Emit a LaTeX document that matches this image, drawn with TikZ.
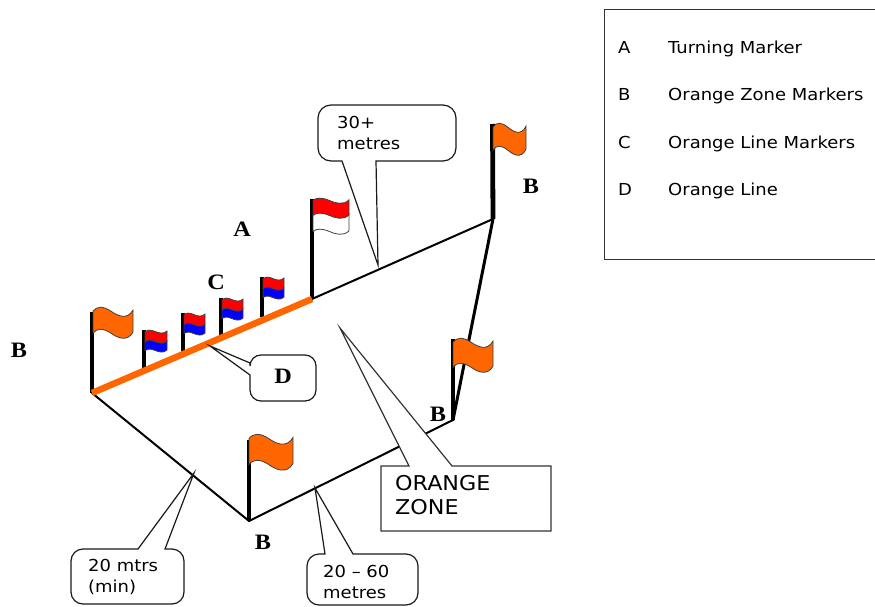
\documentclass[tikz,border=0pt]{standalone}
\usepackage{fontspec}
\setmainfont{DejaVu Sans}[FakeStretch=1.09]
\newfontfamily\lblfont{Liberation Serif}[FakeStretch=1.1]
\definecolor{orangeflag}{HTML}{FF6600}
\definecolor{redflag}{HTML}{FF0000}
\definecolor{blueflag}{HTML}{0000FF}
\newcommand{\waveband}[6]{% x y w amp h colour
  \begin{scope}[shift={(#1,#2)},x=#3pt,y=-#4pt]
    \pgfmathsetmacro{\hh}{#5/#4}
    \filldraw[fill=#6,draw=black!75,line width=.8pt]
      (0,.4) .. controls (.1,-.1) and (.25,-.1) .. (.45,.4)
             .. controls (.6,.8) and (.85,1.3) .. (1,.3)
      -- (1,.3+\hh) .. controls (.85,1.3+\hh) and (.6,.8+\hh) .. (.45,.4+\hh)
             .. controls (.25,-.1+\hh) and (.1,-.1+\hh) .. (0,.4+\hh) -- cycle;
  \end{scope}}
\tikzset{
  pole/.style={line width=4.8pt,black},
  thinpole/.style={line width=4.2pt,black},
  course/.style={line width=2pt,black,line cap=round},
  orangeline/.style={line width=6.5pt,orangeflag},
  callout/.style={draw=black!90,fill=white,line width=1.2pt,line join=miter},
  calloutsq/.style={draw=black!80,fill=white,line width=1.2pt},
  lbl/.style={font=\lblfont\bfseries\fontsize{22}{22}\selectfont,inner sep=0pt,anchor=center},
  txt/.style={font=\fontsize{16.5}{21}\selectfont,inner sep=0pt,align=left,anchor=west},
  bigtxt/.style={font=\fontsize{20.4}{24}\selectfont,inner sep=0pt,align=left,anchor=west},
  leg/.style={font=\fontsize{16.5}{18}\selectfont,inner sep=0pt,anchor=base west},
}
\begin{document}
\begin{tikzpicture}[x=1pt,y=-1pt]
\useasboundingbox (0,0) rectangle (875,607);
% course corners
\coordinate (p1) at (92,393);
\coordinate (p2) at (312,299);
\coordinate (p3) at (493,219);
\coordinate (p4) at (453,420);
\coordinate (p5) at (249,521);
\coordinate (t1) at (92,312);
\coordinate (t2) at (312,199);
\coordinate (t3) at (492.5,124);
\coordinate (t4) at (453,339);
\coordinate (t5) at (249,440);
% course lines
\draw[course] (p2) -- (p3);
\draw[course,line width=3pt] (p3) -- (p4);
\draw[course] (p4) -- (p5);
\draw[course] (p5) -- (p1);
% small flags
\coordinate (c1a) at (144,330); \coordinate (c1b) at (144,368);
\coordinate (c2a) at (183,313); \coordinate (c2b) at (183,351);
\coordinate (c3a) at (221,298); \coordinate (c3b) at (221,335);
\coordinate (c4a) at (262,277); \coordinate (c4b) at (262,317);
\draw[thinpole] (c1a) -- (c1b);
\draw[thinpole] (c2a) -- (c2b);
\draw[thinpole] (c3a) -- (c3b);
\draw[thinpole] (c4a) -- (c4b);
\waveband{145}{340}{22}{3.5}{9}{blueflag}\waveband{145}{330}{22}{3.5}{10}{redflag}
\waveband{184}{323}{21}{3.5}{9}{blueflag}\waveband{184}{313}{21}{3.5}{10}{redflag}
\waveband{222}{308}{21}{3.5}{9}{blueflag}\waveband{222}{298}{21}{3.5}{10}{redflag}
\waveband{263}{287}{21}{3.5}{9}{blueflag}\waveband{263}{277}{21}{3.5}{10}{redflag}
% big poles
\draw[pole] (t1) -- (p1);
\draw[pole] (t2) -- (p2);
\draw[pole] (t3) -- (p3);
\draw[pole] (t4) -- (p4);
\draw[pole] (t5) -- (p5);
% orange line
\draw[orangeline] (p1) -- (p2);
% big flags
\waveband{93}{307}{40}{10.5}{22}{orangeflag}
\waveband{493}{123}{33}{10.5}{23}{orangeflag}
\waveband{453}{338}{40}{10.5}{25}{orangeflag}
\waveband{249}{434}{44}{11.5}{26}{orangeflag}
\waveband{313}{212}{36}{6}{17}{white}
\waveband{313}{198}{36}{6}{15}{redflag}
% callouts
\coordinate (k1) at (378,265);
\draw[callout] (342,161) -- (k1) -- (376,161) [rounded corners=13pt] -- (456,161) -- (456,105) -- (318,105) -- (318,161) [sharp corners] -- (342,161) -- cycle;
\coordinate (k2) at (210,346);
\draw[callout] (250,363) -- (k2) -- (250,375) [rounded corners=11pt] -- (250,401) -- (316,401) -- (316,355) -- (250,355) [sharp corners] -- (250,363) -- cycle;
\coordinate (k3) at (194,473);
\draw[callout] (138,549) -- (k3) -- (165,549) [rounded corners=12pt] -- (184,549) -- (184,604) -- (71,604) -- (71,549) [sharp corners] -- (138,549) -- cycle;
\coordinate (k4) at (315,488);
\draw[callout] (325,554) -- (k4) -- (353,554) [rounded corners=12pt] -- (418,554) -- (418,605) -- (307,605) -- (307,554) [sharp corners] -- (325,554) -- cycle;
\coordinate (k5) at (340,328);
\draw[calloutsq] (409,466) -- (k5) -- (452,466) -- (551,466) -- (551,531) -- (381,531) -- (381,466) -- cycle;
% labels
\node[lbl] (la) at (242,229) {A};
\node[lbl] (lb1) at (531,186) {B};
\node[lbl] (lc) at (216,282) {C};
\node[lbl] (ld) at (283,376) {D};
\node[lbl] (lb2) at (19,350) {B};
\node[lbl] (lb3) at (438,414) {B};
\node[lbl] (lb4) at (263,542) {B};
% callout text
\node[txt] (n30) at (337,133) {30+\\metres};
\node[txt] (n20) at (88,577) {20 mtrs\\(min)};
\node[txt] (n60) at (323,582) {20 -- 60\\metres};
\node[bigtxt] (nz) at (395,495) {ORANGE\\ZONE};
% legend
\draw[black!80,line width=1pt] (875,10) -- (604,10) -- (604,259) -- (875,259);
\node[leg] (a1) at (618,54) {A};
\node[leg] (a2) at (668,54) {Turning Marker};
\node[leg] (b1) at (618,101) {B};
\node[leg] (b2) at (668,101) {Orange Zone Markers};
\node[leg] (c1) at (618,148) {C};
\node[leg] (c2) at (668,148) {Orange Line Markers};
\node[leg] (d1) at (618,195) {D};
\node[leg] (d2) at (668,195) {Orange Line};
\end{tikzpicture}
\end{document}
